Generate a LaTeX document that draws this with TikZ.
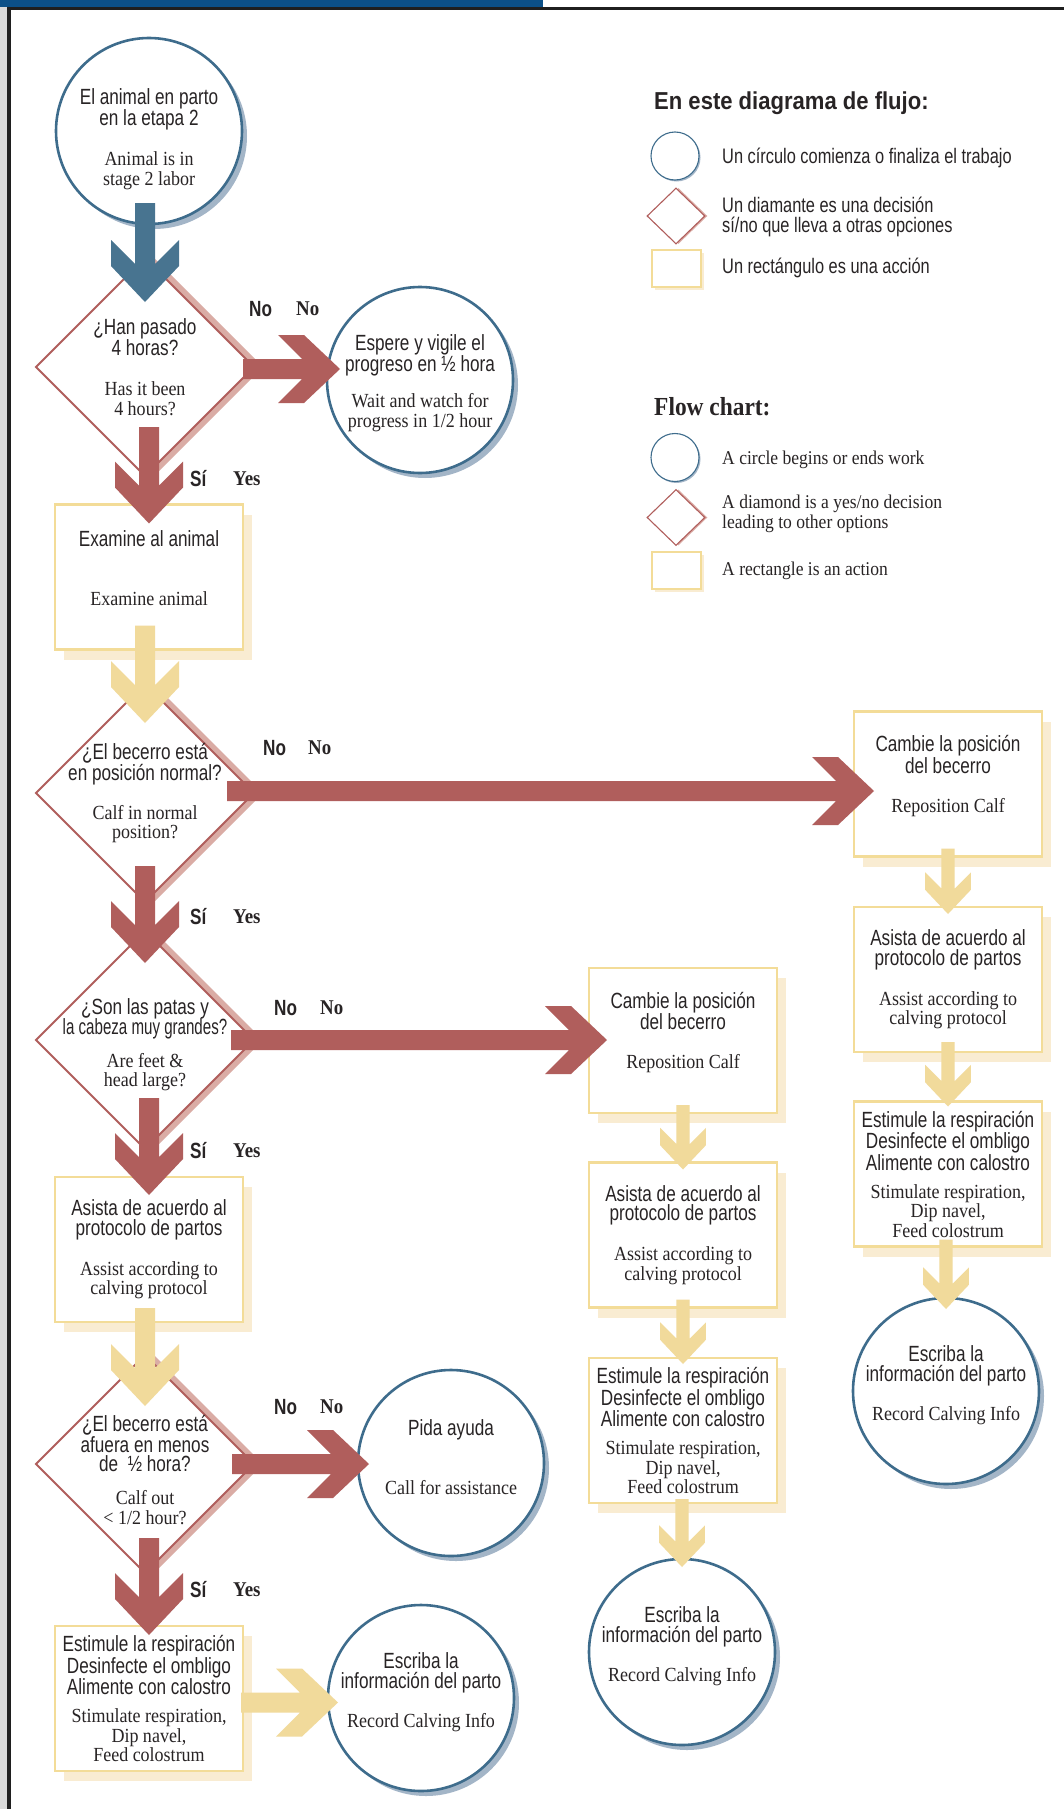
\documentclass[tikz,border=0pt]{standalone}
\usepackage{fontspec}
\usepackage{graphicx}
\setmainfont{Liberation Serif}
\newfontfamily\esfont[FakeStretch=0.78]{Liberation Sans}
\newfontfamily\hdfont[FakeStretch=0.9]{Liberation Sans}
\newfontfamily\enfont[FakeStretch=0.9]{Liberation Serif}
\usetikzlibrary{%
  calc,%
  shapes.geometric,%
  shadows%
}
\definecolor{inkgray}{RGB}{40,36,37}
\definecolor{barblue}{RGB}{12,80,136}
\definecolor{circline}{RGB}{62,108,140}
\definecolor{circshade}{RGB}{163,181,199}
\definecolor{arrblue}{RGB}{72,116,144}
\definecolor{arrred}{RGB}{176,94,92}
\definecolor{diashade}{RGB}{218,172,165}
\definecolor{arryel}{RGB}{241,218,155}
\definecolor{boxline}{RGB}{243,220,152}
\definecolor{boxshade}{RGB}{249,236,210}

\newcommand{\estx}{\esfont\fontsize{22}{19.5}\selectfont}
\newcommand{\entx}{\enfont\fontsize{20}{19}\selectfont}

% fat arrows: style, scale, start, tip
\newcommand{\fatdown}[4]{%
  \fill[#1] let \p1=(#3), \p2=(#4) in
    (\x2-10*#2pt,\y1) -- (\x2-10*#2pt,\y2+38*#2pt) -- (\x2-34*#2pt,\y2+62*#2pt)
    -- (\x2-34*#2pt,\y2+36*#2pt) -- (\x2,\y2) -- (\x2+34*#2pt,\y2+36*#2pt)
    -- (\x2+34*#2pt,\y2+62*#2pt) -- (\x2+10*#2pt,\y2+38*#2pt) -- (\x2+10*#2pt,\y1) -- cycle;}
\newcommand{\fatright}[4]{%
  \fill[#1] let \p1=(#3), \p2=(#4) in
    (\x1,\y1+10*#2pt) -- (\x2-38*#2pt,\y1+10*#2pt) -- (\x2-62*#2pt,\y1+34*#2pt)
    -- (\x2-36*#2pt,\y1+34*#2pt) -- (\x2,\y1) -- (\x2-36*#2pt,\y1-34*#2pt)
    -- (\x2-62*#2pt,\y1-34*#2pt) -- (\x2-38*#2pt,\y1-10*#2pt) -- (\x1,\y1-10*#2pt) -- cycle;}

\tikzset{
  startend/.style={circle, draw=circline, line width=2.6pt, fill=white,
    minimum size=186pt, inner sep=0pt, outer sep=0pt, align=center,
    text=inkgray, font=\estx,
    drop shadow={shadow xshift=5pt, shadow yshift=-5pt, fill=circshade, opacity=1}},
  decision/.style={diamond, draw=arrred, line width=1.8pt, fill=white,
    minimum width=218pt, minimum height=218pt, inner sep=0pt, outer sep=0pt,
    drop shadow={shadow xshift=9pt, shadow yshift=0pt, fill=diashade, opacity=1}},
  dtext/.style={align=center, text=inkgray, font=\estx, inner sep=0pt},
  action/.style={rectangle, draw=boxline, line width=2.4pt, fill=white,
    minimum width=188pt, minimum height=145pt, inner sep=0pt, outer sep=0pt,
    align=center, text=inkgray, font=\estx,
    drop shadow={shadow xshift=9pt, shadow yshift=-10pt, fill=boxshade, opacity=1}},
  lcircle/.style={circle, draw=circline, line width=1.1pt, fill=white,
    minimum size=48pt, inner sep=0pt,
    drop shadow={shadow xshift=1.5pt, shadow yshift=-1.5pt, fill=circshade, opacity=1}},
  ldiamond/.style={diamond, draw=arrred, line width=1.1pt, fill=white,
    minimum width=58pt, minimum height=56pt, inner sep=0pt,
    drop shadow={shadow xshift=2.5pt, shadow yshift=0pt, fill=diashade, opacity=1}},
  lrect/.style={rectangle, draw=boxline, line width=1.2pt, fill=white,
    minimum width=49pt, minimum height=37pt, inner sep=0pt,
    drop shadow={shadow xshift=2.5pt, shadow yshift=-2.5pt, fill=boxshade, opacity=1}},
  legsp/.style={anchor=west, inner sep=0pt, align=left, text=inkgray,
    font=\esfont\fontsize{21}{20}\selectfont},
  legen/.style={anchor=west, inner sep=0pt, align=left, text=inkgray,
    font=\enfont\fontsize{19.5}{20}\selectfont},
  nosp/.style={anchor=west, inner sep=0pt, text=inkgray,
    font=\esfont\bfseries\fontsize{22}{22}\selectfont},
  noen/.style={anchor=west, inner sep=0pt, text=inkgray,
    font=\enfont\bfseries\fontsize{21}{21}\selectfont},
  bluearr/.style={fill=arrblue},
  redarr/.style={fill=arrred},
  yelarr/.style={fill=arryel}
}

\begin{document}
\begin{tikzpicture}[x=1pt,y=-1pt]
\useasboundingbox (0,0) rectangle (1064,1809);
\fill[white] (0,0) rectangle (1064,1809);
\fill[gray!30] (0,0) rectangle (7,1809);
\fill[black!88] (7,7) rectangle (11,1809);
\fill[black!88] (7,7) rectangle (1064,10);
\fill[barblue] (0,0) rectangle (543,6.7);

% legend
\node[anchor=west, inner sep=0pt, text=inkgray, font=\hdfont\bfseries\fontsize{24.5}{25}\selectfont]
  (lg1h) at (654,103) {En este diagrama de flujo:};
\node[lcircle] (lg1c) at (675,156) {};
\node[ldiamond] (lg1d) at (676,216) {};
\node[lrect] (lg1r) at (676.5,268.5) {};
\node[legsp] (lg1ct) at (722,158) {Un círculo comienza o finaliza el trabajo};
\node[legsp] (lg1dt) at (722,217) {Un diamante es una decisión\\sí/no que lleva a otras opciones};
\node[legsp] (lg1rt) at (722,268) {Un rectángulo es una acción};
\node[anchor=west, inner sep=0pt, text=inkgray, font=\enfont\bfseries\fontsize{26}{26}\selectfont]
  (lg2h) at (654,407) {Flow chart:};
\node[lcircle] (lg2c) at (675,457.5) {};
\node[ldiamond] (lg2d) at (676,517.5) {};
\node[lrect] (lg2r) at (676.5,570.5) {};
\node[legen] (lg2ct) at (722,460) {A circle begins or ends work};
\node[legen] (lg2dt) at (722,514) {A diamond is a yes/no decision\\leading to other options};
\node[legen] (lg2rt) at (722,571) {A rectangle is an action};

% left column
\node[startend] (c1) at (149,131) {\rule{0pt}{32pt}El animal en parto\\en la etapa 2\\[20.5pt]\entx Animal is in\\\entx stage 2 labor};
\node[decision] (d1) at (145,367) {};
\node[dtext] (d1t) at (d1) {¿Han pasado\\4 horas?\\[20.5pt]\entx Has it been\\\entx 4 hours?};
\node[startend] (c2) at (420,380) {\rule{0pt}{22pt}Espere y vigile el\\progreso en ½ hora\\[16.5pt]\entx Wait and watch for\\\entx progress in 1/2 hour};
\node[action, text depth=17pt] (r1) at (149,577) {Examine al animal\\[39.5pt]\entx Examine animal};
\node[decision] (d2) at (145,793) {};
\node[dtext] (d2t) at (d2) {¿El becerro está\\en posición normal?\\[19.5pt]\entx Calf in normal\\\entx position?};
\node[decision] (d3) at (145,1040) {};
\node[dtext] (d3t) at ($(d3)+(0,5)$) {¿Son las patas y\\[-2pt]\scalebox{0.88}[1]{la cabeza muy grandes?}\\[13.5pt]\entx Are feet \&\\\entx head large?};
\node[action] (r2) at (149,1249.5) {Asista de acuerdo al\\protocolo de partos\\[20.5pt]\entx Assist according to\\\entx calving protocol};
\node[decision] (d4) at (145,1464) {};
\node[dtext] (d4t) at ($(d4)+(0,6)$) {¿El becerro está\\afuera en menos\\de\ \ ½ hora?\\[13.5pt]\entx Calf out\\\entx < 1/2 hour?};
\node[startend, text depth=11pt] (c3) at (451,1463) {Pida ayuda\\[39.5pt]\entx Call for assistance};
\node[action] (r3) at (149,1698.5) {Estimule la respiración\\Desinfecte el ombligo\\Alimente con calostro\\[8.5pt]\entx Stimulate respiration,\\\entx Dip navel,\\\entx Feed colostrum};
\node[startend, text depth=16pt] (c4) at (421,1698) {Escriba la\\información del parto\\[19.5pt]\entx Record Calving Info};

% middle column
\node[action, text depth=20.5pt] (m1) at (683,1040.5) {Cambie la posición\\del becerro\\[19.5pt]\entx Reposition Calf};
\node[action] (m2) at (683,1235) {Asista de acuerdo al\\protocolo de partos\\[20.5pt]\entx Assist according to\\\entx calving protocol};
\node[action] (m3) at (683,1430.5) {Estimule la respiración\\Desinfecte el ombligo\\Alimente con calostro\\[8.5pt]\entx Stimulate respiration,\\\entx Dip navel,\\\entx Feed colostrum};
\node[startend, text depth=16pt] (m4) at (682,1652) {Escriba la\\información del parto\\[19.5pt]\entx Record Calving Info};

% right column
\node[action, text depth=20.5pt] (q1) at (948,784) {Cambie la posición\\del becerro\\[19.5pt]\entx Reposition Calf};
\node[action] (q2) at (948,979.5) {Asista de acuerdo al\\protocolo de partos\\[20.5pt]\entx Assist according to\\\entx calving protocol};
\node[action] (q3) at (948,1174) {Estimule la respiración\\Desinfecte el ombligo\\Alimente con calostro\\[8.5pt]\entx Stimulate respiration,\\\entx Dip navel,\\\entx Feed colostrum};
\node[startend, text depth=16pt] (q4) at (946,1391) {Escriba la\\información del parto\\[19.5pt]\entx Record Calving Info};

% arrows
\fatdown{bluearr}{1}{$(c1.south)+(0,-21)$}{$(d1.north)+(0,44)$}
\fatdown{redarr}{1}{$(d1.south)+(0,-49)$}{$(r1.north)+(0,19)$}
\fatdown{yelarr}{1}{$(r1.south)+(0,-24)$}{$(d2.north)+(0,39)$}
\fatdown{redarr}{1}{$(d2.south)+(0,-36)$}{$(d3.north)+(0,32)$}
\fatdown{redarr}{1}{$(d3.south)+(0,-51)$}{$(r2.north)+(0,18)$}
\fatdown{yelarr}{1}{$(r2.south)+(0,-14)$}{$(d4.north)+(0,51)$}
\fatdown{redarr}{1}{$(d4.south)+(0,-35)$}{$(r3.north)+(0,9)$}
\fatright{redarr}{1}{$(d1.east)+(-11,2)$}{$(c2.west)+(13,0)$}
\fatright{redarr}{1}{$(d2.east)+(-27,-2)$}{$(q1.west)+(20,0)$}
\fatright{redarr}{1}{$(d3.east)+(-23,0)$}{$(m1.west)+(18,0)$}
\fatright{redarr}{1}{$(d4.east)+(-22,0)$}{$(c3.west)+(11,0)$}
\fatright{yelarr}{1}{$(r3.east)+(-2,4)$}{$(c4.west)+(10,0)$}
\fatdown{yelarr}{0.67}{$(m1.south)+(0,-8)$}{$(m2.north)+(0,7)$}
\fatdown{yelarr}{0.67}{$(m2.south)+(0,-8)$}{$(m3.north)+(0,6)$}
\fatdown{yelarr}{0.67}{$(m3.south)+(0,-4)$}{$(m4.north)+(0,8)$}
\fatdown{yelarr}{0.67}{$(q1.south)+(0,-8)$}{$(q2.north)+(0,7)$}
\fatdown{yelarr}{0.67}{$(q2.south)+(0,-10)$}{$(q3.north)+(0,5)$}
\fatdown{yelarr}{0.67}{$(q3.south)+(0,-7)$}{$(q4.north)+(0,11)$}

% yes / no labels
\node[nosp] (no1s) at (249,309) {No};
\node[noen] (no1e) at (296,309) {No};
\node[nosp] (si1s) at (190,479) {Sí};
\node[noen] (si1e) at (233,479) {Yes};
\node[nosp] (no2s) at (263,748) {No};
\node[noen] (no2e) at (308,748) {No};
\node[nosp] (si2s) at (190,917) {Sí};
\node[noen] (si2e) at (233,917) {Yes};
\node[nosp] (no3s) at (274,1008) {No};
\node[noen] (no3e) at (320,1008) {No};
\node[nosp] (si3s) at (190,1151) {Sí};
\node[noen] (si3e) at (233,1151) {Yes};
\node[nosp] (no4s) at (274,1407) {No};
\node[noen] (no4e) at (320,1407) {No};
\node[nosp] (si4s) at (190,1590) {Sí};
\node[noen] (si4e) at (233,1590) {Yes};
\end{tikzpicture}
\end{document}
